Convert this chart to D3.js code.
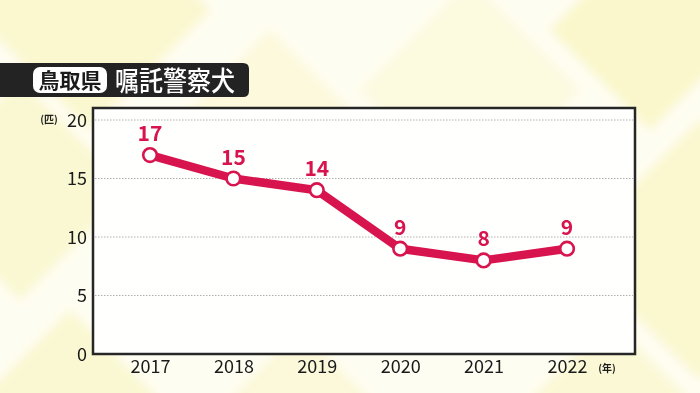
<!DOCTYPE html>
<meta charset="UTF-8">
<script src="https://d3js.org/d3.v7.min.js"></script>
<style>
  body { margin: 0; background: #fff; }
  svg text { font-family: "Noto Sans CJK JP", "Noto Sans", sans-serif; }
</style>
<body>
<div id="chart"></div>
<script>

// data
var years = ["2017", "2018", "2019", "2020", "2021", "2022"];
var dogs = [17, 15, 14, 9, 8, 9];
var yTicks = [0, 5, 10, 15, 20];

var W = 700, H = 393;

var svg = d3.select("#chart")
  .append("svg")
    .attr("width", W)
    .attr("height", H);

svg.append("defs")
  .append("filter")
    .attr("id", "soft")
    .attr("x", "-20%").attr("y", "-20%")
    .attr("width", "140%").attr("height", "140%")
  .append("feGaussianBlur")
    .attr("stdDeviation", 5);

// background - very pale with soft yellow diamonds
svg.append("rect")
  .attr("width", W).attr("height", H)
  .attr("fill", "#fefdf1");

var diamonds = [
  // cx, cy, half-size, opacity
  [90, 10, 120, 0.5],
  [20, 190, 110, 0.45],
  [70, 400, 90, 0.45],
  [270, 120, 90, 0.3],
  [470, 90, 110, 0.25],
  [650, 30, 100, 0.55],
  [700, 250, 130, 0.5],
  [610, 400, 80, 0.4],
  [300, 400, 70, 0.35]
];
svg.append("g")
  .attr("filter", "url(#soft)")
  .selectAll("path")
  .data(diamonds)
  .enter()
  .append("path")
    .attr("d", function (d) {
      return "M" + d[0] + "," + (d[1] - d[2]) + "L" + (d[0] + d[2]) + "," + d[1] +
             "L" + d[0] + "," + (d[1] + d[2]) + "L" + (d[0] - d[2]) + "," + d[1] + "Z";
    })
    .attr("fill", "#f7f2ad")
    .attr("opacity", function (d) { return d[3]; });

// title banner
svg.append("path")
  .attr("d", "M0,63 H243 Q249,63 249,69 V91 Q249,97 243,97 H0 Z")
  .attr("fill", "#232323");
svg.append("rect")
  .attr("x", 33).attr("y", 67)
  .attr("width", 74).attr("height", 26)
  .attr("rx", 7)
  .attr("fill", "#ffffff");
svg.append("text")
  .attr("x", 70).attr("y", 88)
  .attr("text-anchor", "middle")
  .attr("font-size", 21)
  .attr("font-weight", 700)
  .attr("fill", "#1a1a1a")
  .attr("textLength", 63)
  .attr("lengthAdjust", "spacingAndGlyphs")
  .text("鳥取県");
svg.append("text")
  .attr("x", 115).attr("y", 91)
  .attr("font-size", 27)
  .attr("font-weight", 500)
  .attr("fill", "#ffffff")
  .attr("textLength", 120)
  .attr("lengthAdjust", "spacingAndGlyphs")
  .text("嘱託警察犬");

// plot area
var frame = { left: 93, right: 635, top: 108, bottom: 354 };

svg.append("rect")
  .attr("x", frame.left).attr("y", frame.top)
  .attr("width", frame.right - frame.left)
  .attr("height", frame.bottom - frame.top)
  .attr("fill", "#fffffd")
  .attr("stroke", "#262626")
  .attr("stroke-width", 2.5);

var x = d3.scalePoint()
  .domain(years)
  .range([150, 567]);

var y = d3.scaleLinear()
  .domain([0, 20])
  .range([354, 120]);

// gridlines
svg.append("g").selectAll("line")
  .data(yTicks.filter(function (t) { return t > 0; }))
  .enter()
  .append("line")
    .attr("x1", frame.left + 2).attr("x2", frame.right - 2)
    .attr("y1", function (d) { return y(d); })
    .attr("y2", function (d) { return y(d); })
    .attr("stroke", "#b0b0b0")
    .attr("stroke-width", 1)
    .attr("stroke-dasharray", "1.5,1.5");

// y axis
var yAxis = svg.append("g")
  .attr("transform", "translate(" + (frame.left - 6) + ",0)")
  .call(d3.axisLeft(y).tickValues(yTicks).tickSize(0).tickPadding(0));
yAxis.select(".domain").remove();
yAxis.selectAll("text")
  .attr("font-size", 18)
  .attr("font-weight", 400)
  .attr("fill", "#1a1a1a")
  .attr("dy", "0.36em");

svg.append("text")
  .attr("x", 49).attr("y", 123)
  .attr("text-anchor", "middle")
  .attr("font-size", 10)
  .attr("font-weight", 700)
  .attr("fill", "#1e1e1e")
  .text("(匹)");

// x axis
var xAxis = svg.append("g")
  .attr("transform", "translate(0," + frame.bottom + ")")
  .call(d3.axisBottom(x).tickSize(0).tickPadding(0));
xAxis.select(".domain").remove();
xAxis.selectAll("text")
  .attr("font-size", 18)
  .attr("font-weight", 400)
  .attr("fill", "#1a1a1a")
  .attr("dy", "1.05em");

svg.append("text")
  .attr("x", 607).attr("y", 372)
  .attr("text-anchor", "middle")
  .attr("font-size", 10)
  .attr("font-weight", 700)
  .attr("fill", "#1e1e1e")
  .text("(年)");

// series
var red = "#d8144e";
var line = d3.line()
  .x(function (d, i) { return x(years[i]); })
  .y(function (d) { return y(d); });

svg.append("path")
  .datum(dogs)
  .attr("d", line)
  .attr("fill", "none")
  .attr("stroke", red)
  .attr("stroke-width", 8.5)
  .attr("stroke-linejoin", "round");

svg.append("g").selectAll("circle")
  .data(dogs)
  .enter()
  .append("circle")
    .attr("cx", function (d, i) { return x(years[i]); })
    .attr("cy", function (d) { return y(d); })
    .attr("r", 6.8)
    .attr("fill", "#ffffff")
    .attr("stroke", red)
    .attr("stroke-width", 2.6);

svg.append("g").selectAll("text")
  .data(dogs)
  .enter()
  .append("text")
    .attr("x", function (d, i) { return x(years[i]); })
    .attr("y", function (d) { return y(d) - 14; })
    .attr("text-anchor", "middle")
    .attr("font-size", 21)
    .attr("font-weight", 700)
    .attr("fill", red)
    .text(function (d) { return d; });

</script>
</body>
